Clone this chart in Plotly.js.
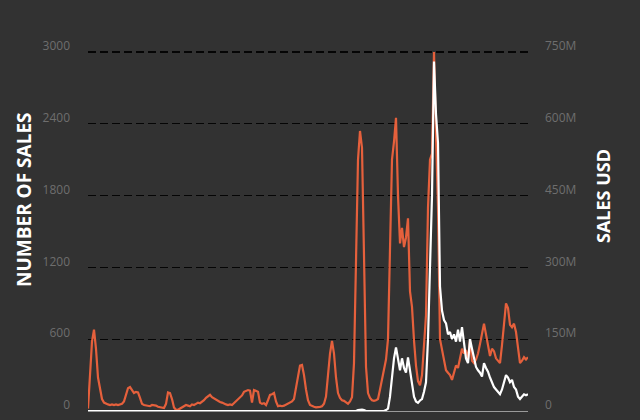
<!DOCTYPE html>
<html>
<head>
<meta charset="utf-8">
<script src="https://cdn.plot.ly/plotly-3.0.1.min.js"></script>
<style>
html,body{margin:0;padding:0;background:#323232;}
#chart{width:640px;height:420px;}
</style>
</head>
<body>
<div id="chart"></div>
<script>
// Number of sales (left axis), one value per sample
var salesCount = [
20,300,580,680,520,280,170,100,70,60,55,50,55,50,55,50,55,60,80,140,
190,200,175,150,160,155,110,60,50,45,45,40,50,50,45,35,30,25,25,60,
155,150,100,30,10,10,20,30,40,50,45,40,55,50,60,70,65,75,90,110,
125,135,115,105,90,85,75,70,60,55,50,55,50,65,80,95,110,130,160,170,
175,170,70,175,165,160,70,60,65,50,90,135,140,150,80,40,45,40,45,55,
60,75,80,100,200,300,380,385,300,180,90,50,40,35,30,30,35,40,60,120,
300,480,585,480,280,150,110,90,85,70,60,80,115,400,1300,2100,2340,2200,1300,370,
150,110,90,85,90,100,180,260,320,430,600,1400,2100,2250,2450,1800,1400,1530,1370,1450,
1610,1000,870,590,380,250,215,300,550,800,1700,2100,2150,3000,2300,1700,600,520,420,340,
320,300,260,320,380,360,450,520,480,510,430,590,420,400,430,480,560,650,730,640,
560,460,520,500,440,420,400,550,700,900,860,720,700,730,660,500,400,420,450,430,
450
];
// Sales in USD (right axis), one value per sample, millions
var salesUsdM = [
0,0,0,0,0,0,0,0,0,0,0,0,0,0,0,0,0,0,0,0,
0,0,0,0,0,0,0,0,0,0,0,0,0,0,0,0,0,0,0,0,
0,0,0,0,0,0,0,0,0,0,0,0,0,0,0,0,0,0,0,0,
0,0,0,0,0,0,0,0,0,0,0,0,0,0,0,0,0,0,0,0,
0,0,0,0,0,0,0,0,0,0,0,0,0,0,0,0,0,0,0,0,
0,0,0,0,0,0,0,0,0,0,0,0,0,0,0,0,0,0,0,0,
0,0,0,0,0,0,0,0,0,0,0,0,0,0,0,2,3,3,2,0,
0,0,0,0,0,0,0,0,0,2,5,30,70,110,133,110,85,110,90,80,
112,85,55,30,20,17,22,25,40,60,150,300,450,730,620,560,260,210,190,183,
160,165,150,160,145,170,145,175,140,110,100,150,130,110,92,85,80,72,100,90,
82,70,60,50,45,40,35,45,60,75,70,60,65,50,45,30,25,30,35,33,
35
];
var leftTicks = [0, 600, 1200, 1800, 2400, 3000];
var rightTicksM = [0, 150, 300, 450, 600, 750];
var rightTickText = ['0', '150M', '300M', '450M', '600M', '750M'];
var leftTitle = 'NUMBER OF SALES';
var rightTitle = 'SALES USD';

var usd = salesUsdM.map(function(v){ return v * 1e6; });

var traces = [
  {
    y: salesCount, type: 'scatter', mode: 'lines', name: 'Number of sales',
    line: {color: '#e5603c', width: 2.2}, yaxis: 'y', hoverinfo: 'skip'
  },
  {
    y: usd, type: 'scatter', mode: 'lines', name: 'Sales USD',
    line: {color: '#ffffff', width: 2.2}, yaxis: 'y2', hoverinfo: 'skip'
  }
];

var tickFont = {family: 'Open Sans, sans-serif', size: 12, color: '#6e6e6e'};

var layout = {
  width: 640, height: 420,
  paper_bgcolor: '#323232', plot_bgcolor: '#323232',
  margin: {l: 88, r: 112, t: 46, b: 9, pad: 0},
  showlegend: false,
  xaxis: {
    range: [0, salesCount.length - 1], showgrid: false, zeroline: false,
    showticklabels: false, ticks: '', showline: true, linecolor: '#9a9a9a', linewidth: 1
  },
  yaxis: {
    range: [0, 3050], tickvals: leftTicks, ticktext: leftTicks.map(String),
    showgrid: true, gridcolor: '#050505', gridwidth: 1.2, griddash: '8px,4px',
    zeroline: false, showline: false,
    ticks: '', ticklabelstandoff: 17, ticklabelshift: -6,
    tickfont: tickFont
  },
  yaxis2: {
    overlaying: 'y', side: 'right', range: [0, 762.5e6],
    tickvals: rightTicksM.map(function(v){ return v * 1e6; }), ticktext: rightTickText,
    showgrid: false, zeroline: false, showline: false,
    ticks: '', ticklabelstandoff: 16, ticklabelshift: -6,
    tickfont: tickFont
  },
  annotations: [
    {
      text: leftTitle, xref: 'paper', yref: 'paper', x: 0, y: (411 - 200) / 365,
      xanchor: 'center', yanchor: 'middle', xshift: -64, textangle: -90, showarrow: false,
      font: {family: 'Open Sans, sans-serif', size: 19, color: '#ffffff', weight: 'bold'}
    },
    {
      text: rightTitle, xref: 'paper', yref: 'paper', x: 1, y: (411 - 196) / 365,
      xanchor: 'center', yanchor: 'middle', xshift: 75, textangle: -90, showarrow: false,
      font: {family: 'Open Sans, sans-serif', size: 18, color: '#ffffff', weight: 'bold'}
    }
  ]
};

Plotly.newPlot('chart', traces, layout, {displayModeBar: false, staticPlot: true});
</script>
</body>
</html>
